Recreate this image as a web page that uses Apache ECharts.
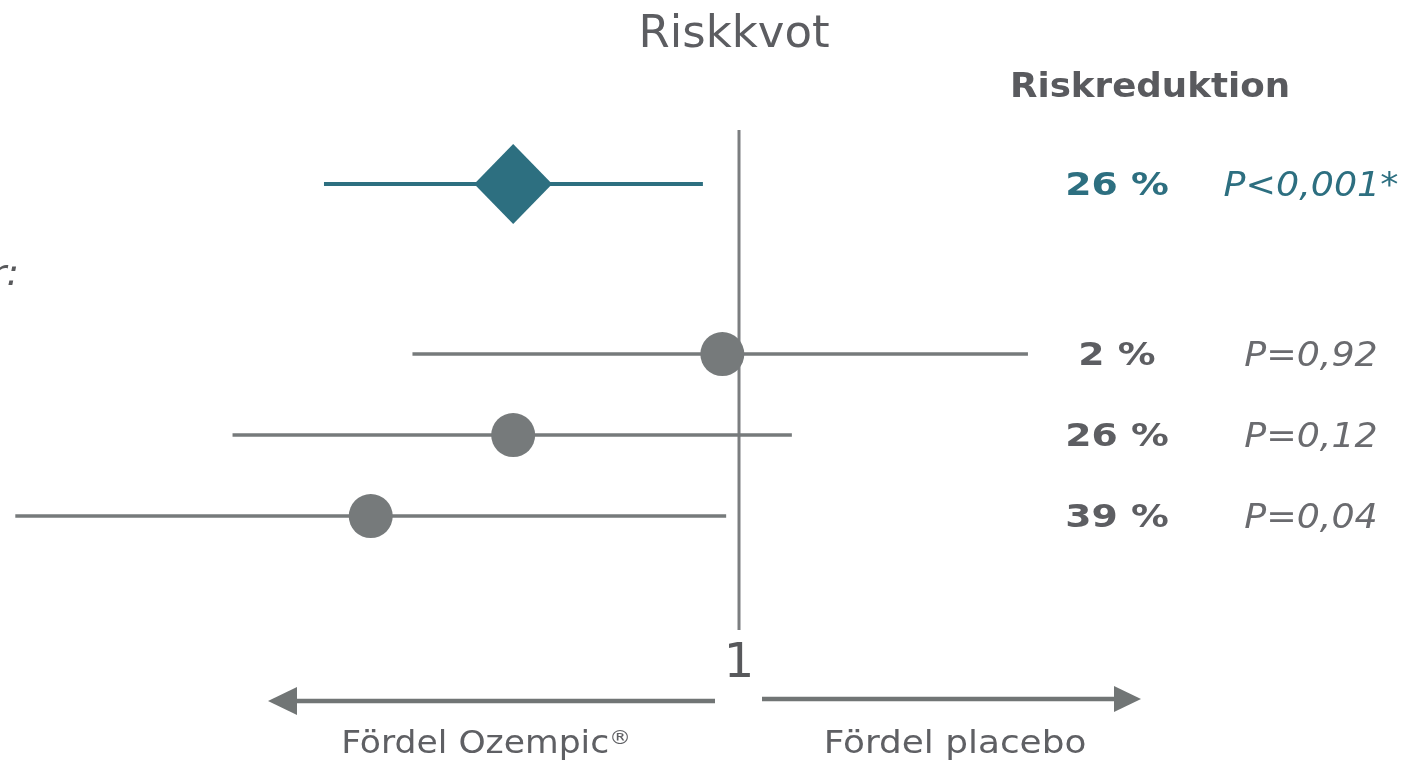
<!DOCTYPE html>
<html>
<head>
<meta charset="utf-8">
<script src="https://cdn.jsdelivr.net/npm/echarts@6/dist/echarts.min.js"></script>
<style>
html,body{margin:0;padding:0;background:#ffffff;}
#chart{width:1403px;height:767px;}
</style>
</head>
<body>
<div id="chart"></div>
<script>
// ---- data ----
const rowNames = ['Primärt MACE', 'CV-död', 'Icke-fatal hjärtinfarkt', 'Icke-fatal stroke'];
const rowPos = [0, 2.1, 3.1, 4.1];
const hazardRatio = [0.74, 0.978, 0.74, 0.612];
const ciLow = [0.575, 0.647, 0.509, 0.381];
const ciHigh = [0.953, 1.47, 1.073, 0.983];
const riskReduction = ['26 %', '2 %', '26 %', '39 %'];
const pValues = ['P<0,001*', 'P=0,92', 'P=0,12', 'P=0,04'];
const headerLabel = 'Komponenter:';
const refValue = 1;
const titleText = 'Riskkvot';
const columnHeader = 'Riskreduktion';
const leftFavour = 'Fördel Ozempic';
const rightFavour = 'Fördel placebo';

// ---- styles ----
const TEAL = '#2d6f80';
const GREY = '#767a7b';
const FONT = '"DejaVu Sans", Verdana, sans-serif';
const rowColors = rowNames.map((n, i) => i === 0 ? TEAL : GREY);

const chart = echarts.init(document.getElementById('chart'), null, {renderer: 'canvas'});

const option = {
  backgroundColor: '#ffffff',
  animation: false,
  grid: {left: 3.4, top: 130, width: 1392.2, height: 500, containLabel: false},
  xAxis: {
    type: 'log', logBase: 10, min: 0.375, max: 2.4,
    show: false
  },
  yAxis: {
    type: 'value', inverse: true, min: -0.667, max: 5.506,
    show: false
  },
  series: [
    {
      // reference line at 1 with its tick label
      type: 'custom', silent: true, z: 1,
      data: [[refValue, rowPos[0]]],
      renderItem(params, api) {
        const cs = params.coordSys;
        const x = api.coord([api.value(0), api.value(1)])[0];
        return {
          type: 'group',
          children: [
            {type: 'line', shape: {x1: x, y1: cs.y, x2: x, y2: cs.y + cs.height},
             style: {stroke: '#7b7e80', lineWidth: 3}},
            {type: 'text', x: x, y: cs.y + cs.height + 35,
             style: {text: String(api.value(0)), fontSize: 48, fontFamily: FONT,
                     fill: '#58595c', align: 'center', verticalAlign: 'middle'}}
          ]
        };
      }
    },
    {
      // confidence intervals
      type: 'custom', silent: true, z: 2,
      data: rowNames.map((n, i) => ({value: [ciLow[i], ciHigh[i], rowPos[i]], itemStyle: {color: rowColors[i]}})),
      encode: {x: [0, 1], y: 2},
      renderItem(params, api) {
        const y = api.value(2);
        const a = api.coord([api.value(0), y]);
        const b = api.coord([api.value(1), y]);
        return {
          type: 'line',
          shape: {x1: a[0], y1: a[1], x2: b[0], y2: b[1]},
          style: {stroke: api.visual('color'), lineWidth: params.dataIndex === 0 ? 4 : 3.5}
        };
      }
    },
    {
      // point estimates
      type: 'scatter', silent: true, z: 3,
      data: rowNames.map((n, i) => ({
        value: [hazardRatio[i], rowPos[i]],
        symbol: i === 0 ? 'diamond' : 'circle',
        symbolSize: i === 0 ? [78, 80] : 44,
        itemStyle: {color: rowColors[i], opacity: 1}
      }))
    },
    {
      // right-hand text columns
      type: 'custom', silent: true, z: 4,
      data: rowNames.map((n, i) => [refValue, rowPos[i]]),
      renderItem(params, api) {
        const i = params.dataIndex;
        const y = api.coord([api.value(0), api.value(1)])[1] + 3;
        return {
          type: 'group',
          children: [
            {type: 'text', x: 1117, y: y, scaleX: 1.18,
             style: {text: riskReduction[i], fontSize: 32, fontWeight: 'bold', fontFamily: FONT,
                     fill: i === 0 ? TEAL : '#5d5e62', align: 'center', verticalAlign: 'middle'}},
            {type: 'text', x: 1311, y: y, scaleX: 1.07,
             style: {text: pValues[i], fontSize: 34, fontStyle: 'italic', fontFamily: FONT,
                     fill: i === 0 ? TEAL : '#6a6b6f', align: 'center', verticalAlign: 'middle'}}
          ]
        };
      }
    }
  ],
  graphic: [
    {type: 'text', x: 734, y: 35, silent: true,
     style: {text: titleText, fontSize: 45, fontFamily: FONT, fill: '#5c5d61', align: 'center', verticalAlign: 'middle'}},
    {type: 'text', x: 1150, y: 88, scaleX: 1.08, silent: true,
     style: {text: columnHeader, fontSize: 33, fontWeight: 'bold', fontFamily: FONT, fill: '#595a5e', align: 'center', verticalAlign: 'middle'}},
    {type: 'text', x: 19, y: 276, scaleX: 1.07, silent: true,
     style: {text: headerLabel, fontSize: 35, fontStyle: 'italic', fontFamily: FONT, fill: '#58595c', align: 'right', verticalAlign: 'middle'}},
    // arrows
    {type: 'line', silent: true, shape: {x1: 715, y1: 701, x2: 292, y2: 701}, style: {stroke: '#717575', lineWidth: 4.5}},
    {type: 'polygon', silent: true, shape: {points: [[268, 701], [297, 687], [297, 715]]}, style: {fill: '#717575'}},
    {type: 'line', silent: true, shape: {x1: 762, y1: 699, x2: 1118, y2: 699}, style: {stroke: '#717575', lineWidth: 4.5}},
    {type: 'polygon', silent: true, shape: {points: [[1141, 699], [1114, 686], [1114, 712]]}, style: {fill: '#717575'}},
    {type: 'text', x: 486, y: 745, scaleX: 1.08, silent: true,
     style: {text: '{a|' + leftFavour + '}{r|®}', align: 'center', verticalAlign: 'middle',
             rich: {a: {fontSize: 32, fontFamily: FONT, fill: '#5f6064'},
                    r: {fontSize: 20, fontFamily: FONT, fill: '#5f6064', verticalAlign: 'top'}}}},
    {type: 'text', x: 955, y: 745, scaleX: 1.12, silent: true,
     style: {text: rightFavour, fontSize: 32, fontFamily: FONT, fill: '#5f6064', align: 'center', verticalAlign: 'middle'}}
  ]
};
chart.setOption(option);
</script>
</body>
</html>
